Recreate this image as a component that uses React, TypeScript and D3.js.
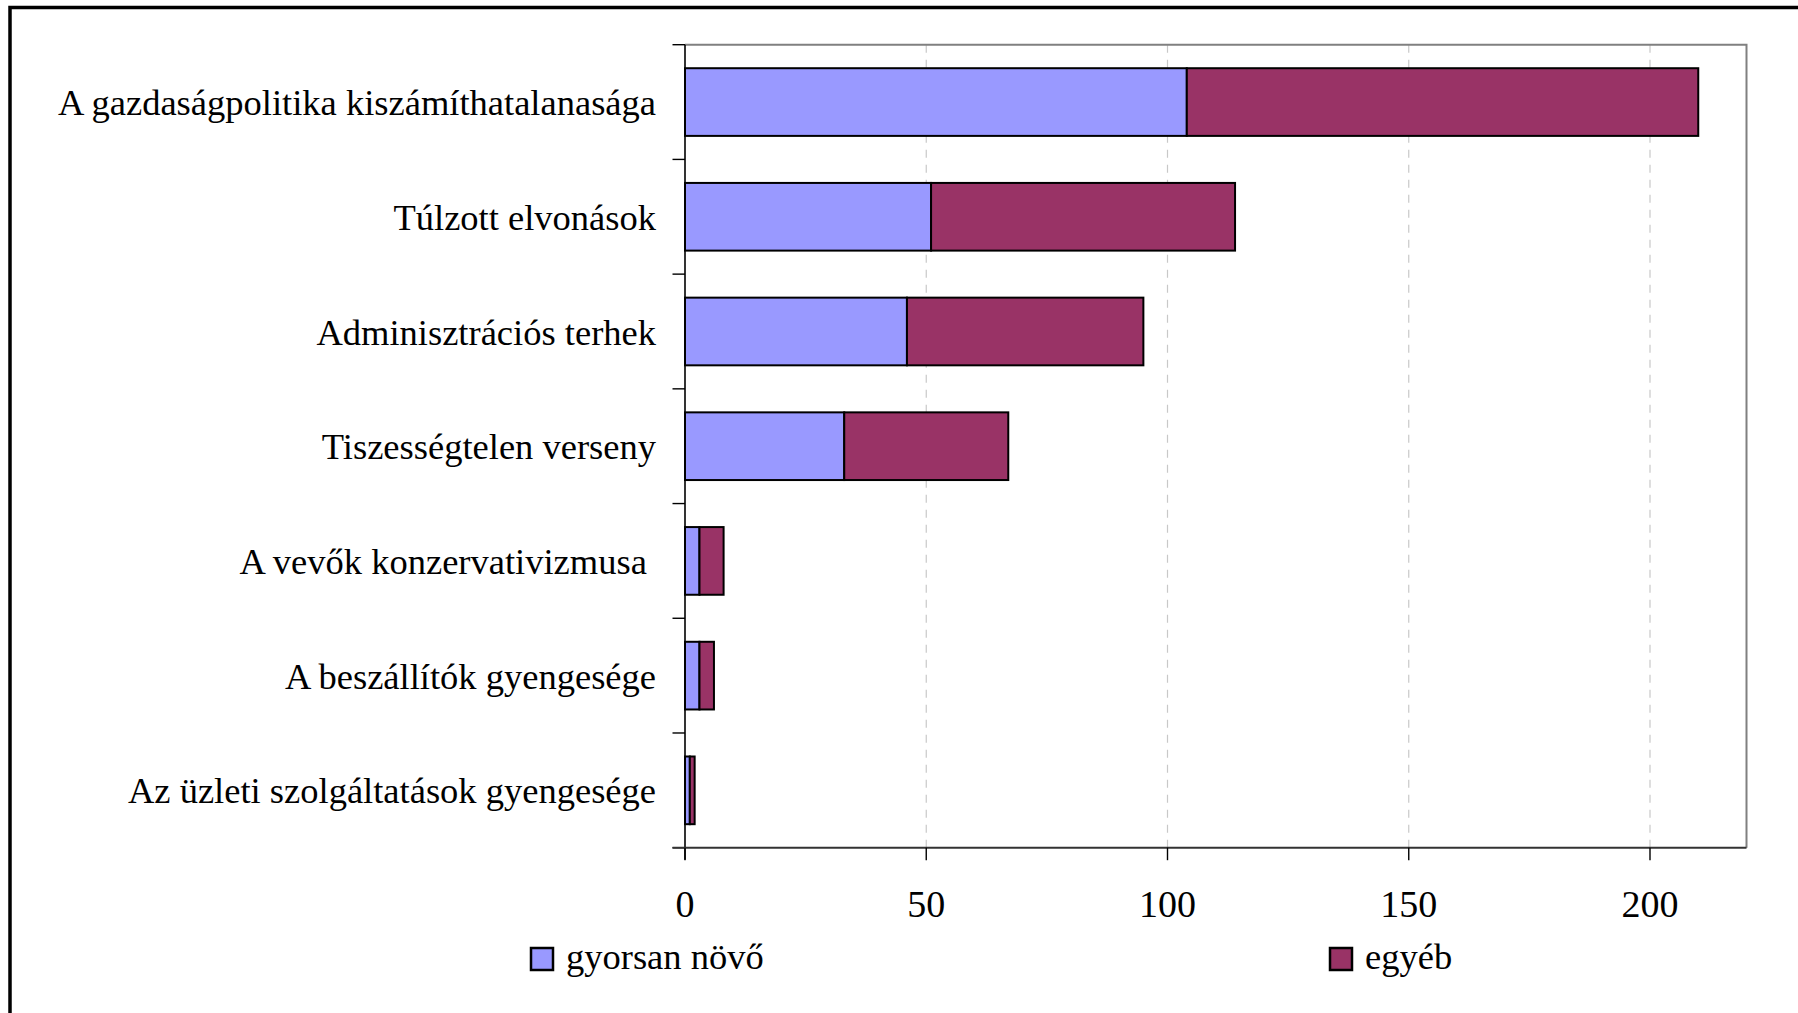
import React, { useRef, useEffect } from 'react';
import * as d3 from 'd3';

const W = 1798;
const H = 1013;

const categories = [
  'A gazdaságpolitika kiszámíthatalanasága',
  'Túlzott elvonások',
  'Adminisztrációs terhek',
  'Tiszességtelen verseny',
  'A vevők konzervativizmusa\u00a0',
  'A beszállítók gyengesége',
  'Az üzleti szolgáltatások gyengesége',
];
const gyorsanNovo = [104, 51, 46, 33, 3, 3, 1];
const egyeb = [106, 63, 49, 34, 5, 3, 1];
const seriesNames = ['gyorsan növő', 'egyéb'];
const seriesColors = ['#9999FF', '#993366'];
const xTicks = [0, 50, 100, 150, 200];
const xMax = 220;

const FONT = '"Liberation Serif", "Times New Roman", serif';

export default function App() {
  const svgRef = useRef<SVGSVGElement>(null);

  useEffect(() => {
    if (!svgRef.current) return;
    const svg = d3.select(svgRef.current);
    svg.selectAll('*').remove();

    const left = 685;
    const right = 1746.5;
    const top = 44.7;
    const bottom = 847.7;

    const x = d3.scaleLinear().domain([0, xMax]).range([left, right]);
    const y = d3
      .scaleBand<string>()
      .domain(categories)
      .range([top, bottom])
      .paddingInner(0.41)
      .paddingOuter(0.205);

    // outer frame (only top and left edges visible)
    svg
      .append('rect')
      .attr('x', 10)
      .attr('y', 7.5)
      .attr('width', W + 20)
      .attr('height', H + 20)
      .attr('fill', 'none')
      .attr('stroke', '#000')
      .attr('stroke-width', 3.5);

    // dashed gridlines
    xTicks
      .filter((t) => t > 0)
      .forEach((t) => {
        svg
          .append('line')
          .attr('x1', x(t))
          .attr('x2', x(t))
          .attr('y1', top)
          .attr('y2', bottom)
          .attr('stroke', '#c8c8c8')
          .attr('stroke-width', 1.2)
          .attr('stroke-dasharray', '8,7');
      });

    // plot border top / right (grey)
    svg
      .append('path')
      .attr('d', `M${left},${top}H${right}V${bottom}`)
      .attr('fill', 'none')
      .attr('stroke', '#808080')
      .attr('stroke-width', 2);

    // stacked bars
    const rows = categories.map((c, i) => ({ cat: c, a: gyorsanNovo[i], b: egyeb[i] }));
    const stack = d3.stack<any>().keys(['a', 'b'])(rows);
    stack.forEach((layer, si) => {
      svg
        .append('g')
        .selectAll('rect')
        .data(layer)
        .join('rect')
        .attr('x', (d) => x(d[0]))
        .attr('y', (d) => y(d.data.cat)!)
        .attr('width', (d) => x(d[1]) - x(d[0]))
        .attr('height', y.bandwidth())
        .attr('fill', seriesColors[si])
        .attr('stroke', '#000')
        .attr('stroke-width', 2);
    });

    // y axis
    svg
      .append('line')
      .attr('x1', left)
      .attr('x2', left)
      .attr('y1', top)
      .attr('y2', bottom + 12)
      .attr('stroke', '#000')
      .attr('stroke-width', 1.6);
    const step = y.step();
    d3.range(categories.length + 1).forEach((i) => {
      const yy = top + i * step;
      svg
        .append('line')
        .attr('x1', left - 12.5)
        .attr('x2', left)
        .attr('y1', yy)
        .attr('y2', yy)
        .attr('stroke', '#000')
        .attr('stroke-width', 1.4);
    });

    // x axis
    svg
      .append('line')
      .attr('x1', left - 12.5)
      .attr('x2', right)
      .attr('y1', bottom)
      .attr('y2', bottom)
      .attr('stroke', '#333')
      .attr('stroke-width', 2);
    xTicks.forEach((t) => {
      svg
        .append('line')
        .attr('x1', x(t))
        .attr('x2', x(t))
        .attr('y1', bottom)
        .attr('y2', bottom + 12.5)
        .attr('stroke', '#000')
        .attr('stroke-width', 1.4);
      svg
        .append('text')
        .attr('x', x(t))
        .attr('y', 917)
        .attr('text-anchor', 'middle')
        .attr('font-family', FONT)
        .attr('font-size', 38)
        .attr('fill', '#000')
        .text(String(t));
    });

    // category labels
    categories.forEach((c) => {
      svg
        .append('text')
        .attr('x', 656)
        .attr('y', y(c)! + y.bandwidth() / 2)
        .attr('dy', '0.36em')
        .attr('text-anchor', 'end')
        .attr('font-family', FONT)
        .attr('font-size', 36.5)
        .attr('fill', '#000')
        .text(c);
    });

    // legend
    const legendX = [531, 1330];
    seriesNames.forEach((name, i) => {
      svg
        .append('rect')
        .attr('x', legendX[i])
        .attr('y', 948)
        .attr('width', 22)
        .attr('height', 22)
        .attr('fill', seriesColors[i])
        .attr('stroke', '#000')
        .attr('stroke-width', 2.5);
      svg
        .append('text')
        .attr('x', legendX[i] + 35)
        .attr('y', 969)
        .attr('font-family', FONT)
        .attr('font-size', 36.5)
        .attr('fill', '#000')
        .text(name);
    });
  }, []);

  return (
    <svg
      ref={svgRef}
      width={W}
      height={H}
      style={{ position: 'absolute', left: 0, top: 0, display: 'block', background: '#fff' }}
    />
  );
}
